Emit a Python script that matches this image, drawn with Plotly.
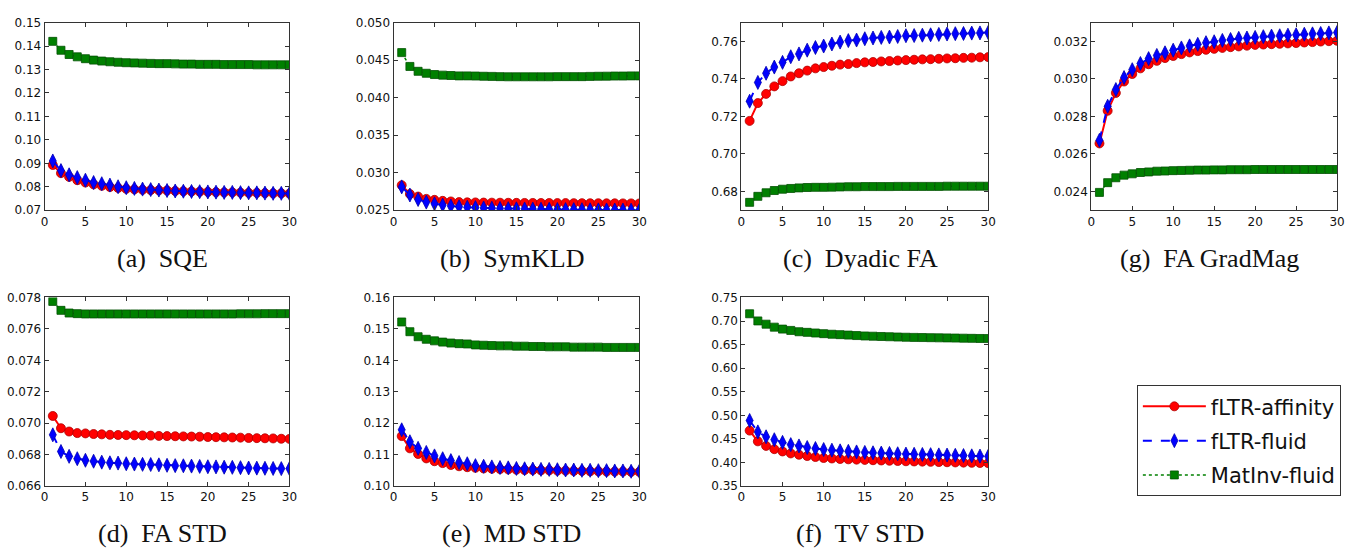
import plotly.graph_objects as go

W, H = 1353, 553
iters = list(range(1, 31))

series_names = ["fLTR-affinity", "fLTR-fluid", "MatInv-fluid"]

# (a) SQE
sqe_affinity = [0.0893,0.0858,0.0842,0.0828,0.0818,0.0810,0.0804,0.0799,0.0795,0.0791,0.0789,0.0787,0.0786,0.0785,0.0784,0.0782,0.0781,0.0780,0.0779,0.0778,0.0777,0.0776,0.0776,0.0775,0.0774,0.0774,0.0773,0.0772,0.0772,0.0771]
sqe_fluid = [0.0910,0.0869,0.0851,0.0839,0.0828,0.0818,0.0813,0.0807,0.0800,0.0796,0.0793,0.0790,0.0788,0.0786,0.0784,0.0782,0.0781,0.0780,0.0779,0.0778,0.0777,0.0776,0.0776,0.0775,0.0774,0.0774,0.0773,0.0772,0.0772,0.0771]
sqe_matinv = [0.1420,0.1382,0.1364,0.1354,0.1346,0.1340,0.1336,0.1333,0.1331,0.1329,0.1328,0.1327,0.1326,0.1325,0.1325,0.1324,0.1323,0.1323,0.1322,0.1322,0.1322,0.1321,0.1321,0.1321,0.1321,0.1320,0.1320,0.1320,0.1320,0.1320]

# (b) SymKLD
kld_affinity = [0.02833,0.02716,0.02682,0.02651,0.02638,0.02625,0.02617,0.02608,0.02605,0.02604,0.02602,0.02601,0.02600,0.02599,0.02598,0.02597,0.02597,0.02596,0.02596,0.02595,0.02595,0.02594,0.02594,0.02593,0.02593,0.02592,0.02592,0.02591,0.02591,0.02590]
kld_fluid = [0.02811,0.02703,0.02643,0.02608,0.02586,0.02569,0.02556,0.02547,0.02539,0.02535,0.02530,0.02527,0.02524,0.02521,0.02519,0.02517,0.02515,0.02513,0.02512,0.02510,0.02509,0.02508,0.02507,0.02506,0.02505,0.02504,0.02503,0.02502,0.02501,0.02500]
kld_matinv = [0.04600,0.04416,0.04351,0.04325,0.04308,0.04300,0.04295,0.04290,0.04290,0.04288,0.04285,0.04283,0.04280,0.04278,0.04278,0.04278,0.04278,0.04278,0.04278,0.04280,0.04280,0.04280,0.04280,0.04283,0.04285,0.04286,0.04288,0.04288,0.04290,0.04290]

# (c) Dyadic FA
dfa_affinity = [0.7176,0.7271,0.7320,0.7360,0.7388,0.7413,0.7430,0.7444,0.7456,0.7463,0.7470,0.7476,0.7479,0.7484,0.7488,0.7490,0.7493,0.7495,0.7498,0.7500,0.7502,0.7504,0.7505,0.7507,0.7509,0.7510,0.7512,0.7513,0.7515,0.7516]
dfa_fluid = [0.7281,0.7381,0.7430,0.7463,0.7488,0.7518,0.7533,0.7553,0.7567,0.7575,0.7586,0.7596,0.7604,0.7607,0.7614,0.7618,0.7621,0.7623,0.7626,0.7630,0.7631,0.7633,0.7635,0.7637,0.7639,0.7641,0.7642,0.7644,0.7645,0.7647]
dfa_matinv = [0.6742,0.6774,0.6793,0.6805,0.6812,0.6816,0.6819,0.6821,0.6822,0.6822,0.6823,0.6824,0.6825,0.6825,0.6826,0.6826,0.6826,0.6826,0.6827,0.6827,0.6827,0.6827,0.6827,0.6827,0.6828,0.6828,0.6828,0.6828,0.6828,0.6828]

# (g) FA GradMag
grad_affinity = [0.02656,0.02830,0.02925,0.02986,0.03026,0.03056,0.03078,0.03096,0.03111,0.03122,0.03132,0.03141,0.03148,0.03155,0.03160,0.03165,0.03169,0.03173,0.03177,0.03181,0.03183,0.03185,0.03187,0.03189,0.03191,0.03194,0.03196,0.03199,0.03201,0.03203]
grad_fluid = [0.02673,0.02854,0.02943,0.03007,0.03049,0.03082,0.03108,0.03125,0.03139,0.03153,0.03165,0.03176,0.03184,0.03193,0.03198,0.03205,0.03210,0.03216,0.03218,0.03221,0.03225,0.03228,0.03230,0.03233,0.03235,0.03238,0.03240,0.03242,0.03245,0.03247]
grad_matinv = [0.02395,0.02447,0.02473,0.02487,0.02494,0.02501,0.02504,0.02508,0.02509,0.02511,0.02512,0.02513,0.02514,0.02514,0.02515,0.02515,0.02516,0.02516,0.02516,0.02517,0.02517,0.02517,0.02517,0.02517,0.02517,0.02517,0.02517,0.02517,0.02517,0.02517]

# (d) FA STD
fastd_affinity = [0.07046,0.06968,0.06947,0.06937,0.06935,0.06931,0.06929,0.06926,0.06925,0.06924,0.06923,0.06922,0.06921,0.06919,0.06918,0.06917,0.06916,0.06915,0.06914,0.06912,0.06911,0.06910,0.06909,0.06908,0.06906,0.06905,0.06904,0.06903,0.06901,0.06900]
fastd_fluid = [0.06926,0.06820,0.06789,0.06774,0.06764,0.06758,0.06752,0.06748,0.06746,0.06742,0.06740,0.06738,0.06737,0.06735,0.06732,0.06730,0.06729,0.06727,0.06725,0.06723,0.06722,0.06720,0.06719,0.06717,0.06715,0.06714,0.06713,0.06712,0.06711,0.06711]
fastd_matinv = [0.07775,0.07718,0.07701,0.07697,0.07695,0.07695,0.07695,0.07695,0.07695,0.07695,0.07695,0.07695,0.07695,0.07695,0.07695,0.07695,0.07695,0.07695,0.07695,0.07695,0.07695,0.07695,0.07695,0.07696,0.07696,0.07696,0.07697,0.07697,0.07697,0.07697]

# (e) MD STD
mdstd_affinity = [0.1159,0.1120,0.1102,0.1088,0.1079,0.1073,0.1067,0.1063,0.1060,0.1058,0.1056,0.1055,0.1054,0.1053,0.1052,0.1051,0.1051,0.1050,0.1050,0.1049,0.1049,0.1048,0.1048,0.1047,0.1047,0.1046,0.1046,0.1046,0.1045,0.1045]
mdstd_fluid = [0.1179,0.1141,0.1120,0.1107,0.1096,0.1087,0.1081,0.1075,0.1071,0.1065,0.1063,0.1061,0.1059,0.1058,0.1056,0.1055,0.1054,0.1053,0.1053,0.1052,0.1051,0.1051,0.1050,0.1050,0.1049,0.1049,0.1048,0.1048,0.1047,0.1047]
mdstd_matinv = [0.1522,0.1491,0.1475,0.1467,0.1462,0.1458,0.1455,0.1453,0.1452,0.1449,0.1448,0.1447,0.1446,0.1446,0.1445,0.1445,0.1444,0.1444,0.1443,0.1443,0.1443,0.1442,0.1442,0.1442,0.1442,0.1441,0.1441,0.1441,0.1441,0.1441]

# (f) TV STD
tvstd_affinity = [0.4676,0.4448,0.4351,0.4282,0.4234,0.4192,0.4164,0.4137,0.4116,0.4095,0.4085,0.4074,0.4067,0.4060,0.4054,0.4048,0.4043,0.4037,0.4032,0.4026,0.4022,0.4018,0.4014,0.4009,0.4005,0.4001,0.3997,0.3993,0.3989,0.3985]
tvstd_fluid = [0.4891,0.4649,0.4545,0.4483,0.4427,0.4379,0.4351,0.4317,0.4296,0.4275,0.4261,0.4247,0.4236,0.4224,0.4213,0.4206,0.4199,0.4192,0.4185,0.4178,0.4174,0.4170,0.4166,0.4161,0.4157,0.4152,0.4147,0.4141,0.4136,0.4130]
tvstd_matinv = [0.7154,0.7002,0.6933,0.6870,0.6829,0.6801,0.6773,0.6760,0.6746,0.6732,0.6720,0.6711,0.6702,0.6692,0.6683,0.6678,0.6672,0.6667,0.6661,0.6656,0.6653,0.6650,0.6647,0.6644,0.6642,0.6639,0.6636,0.6633,0.6630,0.6628]

captions = ["(a)\u00a0 SQE", "(b)\u00a0 SymKLD", "(c)\u00a0 Dyadic FA", "(g)\u00a0 FA GradMag",
            "(d)\u00a0 FA STD", "(e)\u00a0 MD STD", "(f)\u00a0 TV STD"]
y_ranges = [[0.07, 0.15], [0.025, 0.050], [0.67, 0.77], [0.023, 0.033],
            [0.066, 0.078], [0.10, 0.16], [0.35, 0.75]]
y_tick0 = [0.07, 0.025, 0.68, 0.024, 0.066, 0.10, 0.35]
y_dtick = [0.01, 0.005, 0.02, 0.002, 0.002, 0.01, 0.05]
y_fmt = [".2f", ".3f", ".2f", ".3f", ".3f", ".2f", ".2f"]

panels = [
    (sqe_affinity, sqe_fluid, sqe_matinv),
    (kld_affinity, kld_fluid, kld_matinv),
    (dfa_affinity, dfa_fluid, dfa_matinv),
    (grad_affinity, grad_fluid, grad_matinv),
    (fastd_affinity, fastd_fluid, fastd_matinv),
    (mdstd_affinity, mdstd_fluid, mdstd_matinv),
    (tvstd_affinity, tvstd_fluid, tvstd_matinv),
]

# pixel boxes of the axes: (left, right, top, bottom)
boxes = [
    (41, 288, 16, 208.5), (393, 641, 16, 208.5), (744, 993, 16, 208.5), (1097, 1345, 16, 208.5),
    (41, 288, 298, 491.5), (393, 641, 298, 491.5), (744, 993, 298, 491.5),
]

styles = [
    dict(line=dict(color="#ff0000", width=2, dash="solid"),
         marker=dict(symbol="circle", size=9, color="#ff0000", line=dict(color="#b00000", width=0.8))),
    dict(line=dict(color="#0000ff", width=2, dash="dash"),
         marker=dict(symbol="diamond-tall", size=10, color="#0000ff", line=dict(color="#0000b0", width=0.8))),
    dict(line=dict(color="#008000", width=1.5, dash="dot"),
         marker=dict(symbol="square", size=8, color="#008000", line=dict(color="#005000", width=0.8))),
]

fig = go.Figure()
tick_font = dict(family="DejaVu Sans", size=12, color="#111111")

for i, (series, box) in enumerate(zip(panels, boxes)):
    idx = "" if i == 0 else str(i + 1)
    l, r, t, b = box
    xa = dict(domain=[l / W, r / W], range=[0, 30], tick0=0, dtick=5,
              showline=True, linecolor="#333333", linewidth=1, mirror="ticks",
              ticks="inside", ticklen=4, tickcolor="#333333", showgrid=False,
              zeroline=False, tickfont=tick_font, anchor="y" + idx, fixedrange=True)
    ya = dict(domain=[1 - b / H, 1 - t / H], range=y_ranges[i], tick0=y_tick0[i], dtick=y_dtick[i],
              tickformat=y_fmt[i], showline=True, linecolor="#333333", linewidth=1, mirror="ticks",
              ticks="inside", ticklen=4, tickcolor="#333333", showgrid=False,
              zeroline=False, tickfont=tick_font, anchor="x" + idx, fixedrange=True)
    fig.layout["xaxis" + idx] = xa
    fig.layout["yaxis" + idx] = ya
    for k, ys in enumerate(series):
        fig.add_trace(go.Scatter(x=iters, y=ys, mode="lines+markers", name=series_names[k],
                                 legendgroup=series_names[k], showlegend=(i == 0),
                                 xaxis="x" + idx, yaxis="y" + idx, **styles[k]))
    cy = 258 if i < 4 else 540
    fig.add_annotation(x=((l + r) / 2 - 4.5) / W, y=1 - cy / H, xref="paper", yref="paper",
                       text=captions[i], showarrow=False, xanchor="center", yanchor="middle",
                       font=dict(family="Liberation Serif", size=26, color="#111111"))

fig.update_layout(
    width=W, height=H, margin=dict(l=0, r=0, t=0, b=0),
    paper_bgcolor="white", plot_bgcolor="white",
    showlegend=True,
    legend=dict(x=1143 / W, y=1 - 388 / H, xanchor="left", yanchor="top",
                bordercolor="#333333", borderwidth=1, bgcolor="white",
                font=dict(family="DejaVu Sans", size=21, color="#111111"),
                itemwidth=63, tracegroupgap=4),
)

fig.write_html("out.html", config={"displayModeBar": False},
               post_script="document.body.style.margin='0px';")
